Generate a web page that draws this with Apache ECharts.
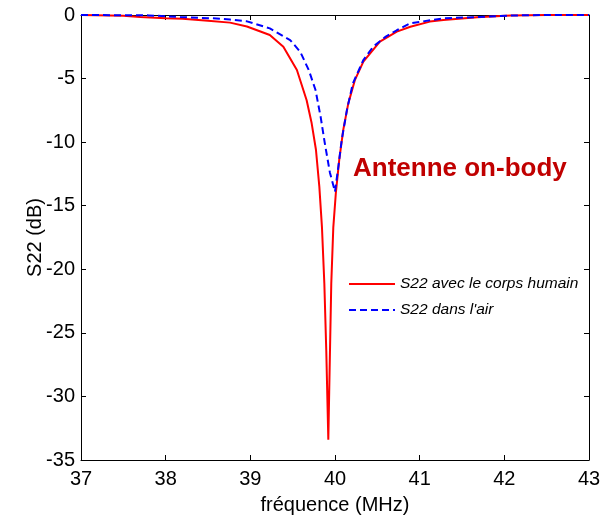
<!DOCTYPE html>
<html>
<head>
<meta charset="utf-8">
<script src="https://cdn.jsdelivr.net/npm/echarts@6/dist/echarts.min.js"></script>
<style>html,body{margin:0;padding:0;background:#fff}#c{width:610px;height:515px}</style>
</head>
<body>
<div id="c"></div>
<script>
// frequency (MHz) and S22 (dB)
var redFreq = [37.0, 37.5, 37.7, 38.0, 38.2, 38.5, 38.76, 38.96, 39.23, 39.39, 39.55, 39.665, 39.724, 39.775, 39.815, 39.846, 39.874, 39.897, 39.921, 39.937, 39.956, 39.98, 40.01, 40.05, 40.097, 40.157, 40.236, 40.335, 40.53, 40.73, 40.89, 41.12, 41.28, 41.68, 42.07, 42.5, 43.0];
var redVals = [0, -0.05, -0.15, -0.25, -0.3, -0.45, -0.6, -0.9, -1.57, -2.49, -4.33, -6.7, -8.5, -10.6, -13.5, -16.7, -21.1, -26.4, -33.4, -27.7, -21.1, -16.7, -14.0, -11.4, -9.05, -6.95, -5.1, -3.67, -2.1, -1.31, -0.92, -0.52, -0.39, -0.18, -0.04, 0, 0];
var blueFreq = [37.0, 37.8, 38.17, 38.56, 38.76, 38.96, 39.23, 39.47, 39.59, 39.69, 39.77, 39.83, 39.88, 39.94, 40.0, 40.04, 40.08, 40.14, 40.21, 40.335, 40.45, 40.6, 40.73, 40.886, 41.28, 41.68, 42.07, 42.5, 43.0];
var blueVals = [0, -0.03, -0.16, -0.26, -0.36, -0.5, -1.05, -1.97, -2.9, -4.33, -5.9, -8.0, -10.1, -12.4, -13.9, -11.9, -9.8, -7.5, -5.4, -3.54, -2.5, -1.7, -1.2, -0.66, -0.26, -0.16, -0.04, 0, 0];
var seriesNames = ["S22 avec le corps humain", "S22 dans l'air"];
var annotation = "Antenne on-body";
var xTitle = "fréquence (MHz)";
var yTitle = "S22 (dB)";

function pairs(xs, ys) { return xs.map(function (x, i) { return [x, ys[i]]; }); }

var font = "Arial, 'Liberation Sans', Helvetica, sans-serif";
var chart = echarts.init(document.getElementById('c'), null, {renderer: 'canvas'});
var axisCommon = {
  axisLine: {show: true, onZero: false, lineStyle: {color: '#000', width: 1}},
  axisTick: {show: true, inside: true, length: 5, lineStyle: {color: '#000'}},
  splitLine: {show: false}
};
chart.setOption({
  animation: false,
  backgroundColor: '#fff',
  grid: {left: 81, right: 21, top: 15, bottom: 55, containLabel: false, outerBoundsMode: 'none'},
  xAxis: [
    Object.assign({type: 'value', min: 37, max: 43, interval: 1, position: 'bottom',
      name: xTitle, nameLocation: 'middle', nameGap: 35, nameMoveOverlap: false,
      nameTextStyle: {fontFamily: font, fontSize: 20, color: '#000'},
      axisLabel: {fontFamily: font, fontSize: 20, color: '#000', margin: 9}}, axisCommon),
    Object.assign({type: 'value', min: 37, max: 43, interval: 1, position: 'top',
      axisLabel: {show: false}}, axisCommon)
  ],
  yAxis: [
    Object.assign({type: 'value', min: -35, max: 0, interval: 5, position: 'left',
      name: yTitle, nameLocation: 'middle', nameGap: 36, nameMoveOverlap: false,
      nameTextStyle: {fontFamily: font, fontSize: 20, color: '#000'},
      axisLabel: {fontFamily: font, fontSize: 20, color: '#000', margin: 6}}, axisCommon),
    Object.assign({type: 'value', min: -35, max: 0, interval: 5, position: 'right',
      axisLabel: {show: false}}, axisCommon)
  ],
  legend: {
    orient: 'vertical', left: 343, top: 271, itemWidth: 46, itemHeight: 14, itemGap: 10,
    itemStyle: {opacity: 0},
    textStyle: {fontFamily: font, fontSize: 15.5, fontStyle: 'italic', color: '#000'},
    data: seriesNames
  },
  graphic: [{
    type: 'text', left: 353, top: 156,
    style: {text: annotation, fontFamily: font, fontSize: 26, fontWeight: 'bold', fill: '#c00000'}
  }],
  series: [
    {name: seriesNames[0], type: 'line', data: pairs(redFreq, redVals), symbol: 'none', smooth: false,
      lineStyle: {color: '#ff0000', width: 2}, itemStyle: {color: '#ff0000'}, z: 2},
    {name: seriesNames[1], type: 'line', data: pairs(blueFreq, blueVals), symbol: 'none', smooth: false,
      lineStyle: {color: '#0000ff', width: 2, type: [7, 4]}, itemStyle: {color: '#0000ff'}, z: 3}
  ]
});
</script>
</body>
</html>
